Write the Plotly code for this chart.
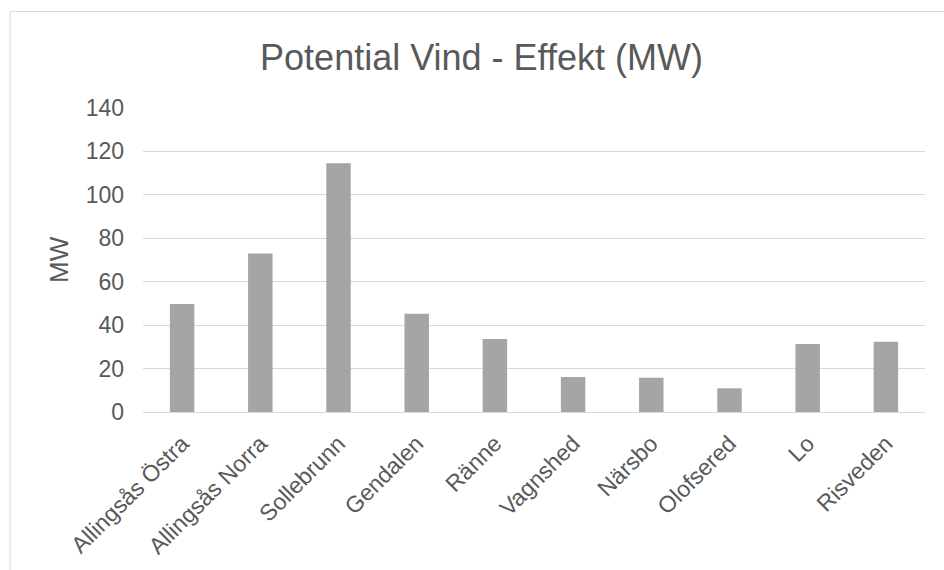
import plotly.graph_objects as go

# Wind power potential per site (MW)
sites = ["Allingsås Östra", "Allingsås Norra", "Sollebrunn", "Gendalen", "Ränne",
         "Vagnshed", "Närsbo", "Olofsered", "Lo", "Risveden"]
effekt_mw = [49.7, 73.0, 114.6, 45.2, 33.6, 16.1, 15.8, 10.9, 31.3, 32.4]
y_ticks = [0, 20, 40, 60, 80, 100, 120, 140]

TEXT = "#595959"
GRID = "#D9D9D9"
FONT = "Liberation Sans, Arial, sans-serif"

W, H = 944, 570
L, R, T, B = 143, 19, 108, 158
pw, ph = W - L - R, H - T - B

fig = go.Figure(go.Bar(
    x=sites, y=effekt_mw,
    marker=dict(color="#A5A5A5", line=dict(width=0)),
))

fig.update_layout(
    width=W, height=H,
    margin=dict(l=L, r=R, t=T, b=B),
    paper_bgcolor="white", plot_bgcolor="white",
    bargap=0.687,
    showlegend=False,
    font=dict(family=FONT, color=TEXT),
    title=dict(text="Potential Vind - Effekt (MW)", x=481.5 / W, xanchor="center",
               y=1 - 57 / H, yanchor="middle", yref="container",
               font=dict(size=36, color=TEXT, family=FONT)),
    xaxis=dict(tickangle=-45, tickfont=dict(size=23, color=TEXT),
               showgrid=False, showline=True, linecolor=GRID, linewidth=1,
               ticks="", ticklabelstandoff=8),
    yaxis=dict(range=[0, 140], tickvals=y_ticks, tickfont=dict(size=23, color=TEXT),
               showgrid=True, gridcolor=GRID, gridwidth=1,
               zeroline=True, zerolinecolor=GRID, zerolinewidth=1,
               showline=False, ticks="", ticklabelstandoff=18),
    annotations=[dict(text="MW", textangle=-90, xref="paper", yref="paper",
                      x=(59 - L) / pw, y=0.5, xanchor="center", yanchor="middle",
                      showarrow=False, font=dict(size=26, color=TEXT, family=FONT))],
    shapes=[dict(type="rect", xref="paper", yref="paper",
                 x0=(10 - L) / pw, x1=(W + 20 - L) / pw,
                 y0=-(H + 20 - (T + ph)) / ph, y1=(T + ph - 11.5) / ph,
                 line=dict(color=GRID, width=1), fillcolor="rgba(0,0,0,0)",
                 layer="below")],
)

fig.write_html("out.html")
